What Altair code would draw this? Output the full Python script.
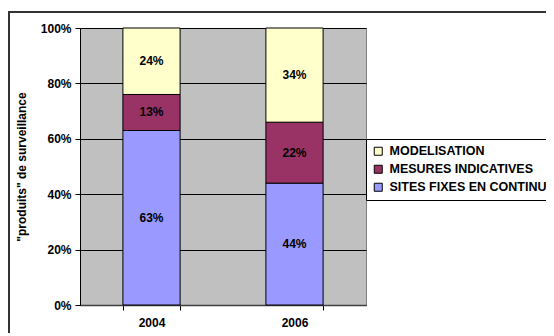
import altair as alt
import pandas as pd

years = ["2004", "2006"]
series = ["SITES FIXES EN CONTINU", "MESURES INDICATIVES", "MODELISATION"]
colors = ["#9999FF", "#993366", "#FFFFCC"]
sites = [63, 44]
mesures = [13, 22]
modelisation = [24, 34]

rows = []
for i, y in enumerate(years):
    for k, (name, vals) in enumerate(zip(series, [sites, mesures, modelisation])):
        rows.append({"year": y, "series": name, "value": vals[i], "order": k,
                     "label": f"{vals[i]}%"})
df = pd.DataFrame(rows)

FONT = "Liberation Sans"
FS = 12

xscale = alt.Scale(paddingInner=0.6, paddingOuter=0.3)

bars = alt.Chart(df).mark_bar(stroke="black", strokeWidth=1).encode(
    x=alt.X("year:N", title=None, scale=xscale,
            axis=alt.Axis(labelAngle=0, labelFontWeight="bold", labelFontSize=FS,
                          labelColor="black", tickBand="extent", tickSize=5,
                          domainColor="#404040", tickColor="black", labelPadding=7,
                          domainWidth=1.5, labelFont=FONT)),
    y=alt.Y("value:Q", stack="normalize", title='"produits" de surveillance',
            scale=alt.Scale(domain=[0, 1]),
            axis=alt.Axis(format=".0%", values=[0, 0.2, 0.4, 0.6, 0.8, 1.0],
                          labelFontWeight="bold", labelFontSize=FS, labelColor="black",
                          titleFontWeight="bold", titleFontSize=FS, titleColor="black",
                          gridColor="black", grid=True, tickColor="black", tickSize=5,
                          domainColor="black", titlePadding=12, labelPadding=4,
                          labelFont=FONT, titleFont=FONT)),
    color=alt.Color("series:N", scale=alt.Scale(domain=series[::-1], range=colors[::-1]),
                    title=None,
                    legend=alt.Legend(orient="none", legendX=286, legendY=111,
                                      symbolType="square", symbolSize=64,
                                      symbolStrokeColor="black", symbolStrokeWidth=1,
                                      labelFontWeight="bold", labelFontSize=12.5,
                                      labelFont=FONT, labelOffset=5,
                                      labelColor="black", strokeColor="black",
                                      fillColor="white", padding=6, rowPadding=5,
                                      labelLimit=300, symbolOpacity=1)),
    order=alt.Order("order:Q"),
)

text = alt.Chart(df).mark_text(fontWeight="bold", fontSize=FS, color="black", font=FONT).encode(
    x=alt.X("year:N", scale=xscale),
    y=alt.Y("value:Q", stack="normalize", bandPosition=0.5),
    text="label:N",
    order=alt.Order("order:Q"),
)

border = alt.Chart(pd.DataFrame({"a": [0]})).mark_rect(
    fill=None, stroke="#333333", strokeWidth=2, clip=False
).encode(x=alt.value(-71), x2=alt.value(520), y=alt.value(-16), y2=alt.value(330))

chart = alt.layer(bars, text, border).properties(
    width=286, height=277,
    autosize=alt.AutoSizeParams(type="none"),
    padding={"left": 72, "top": 20, "right": 180, "bottom": 28},
).configure(font=FONT).configure_view(fill="#C0C0C0", stroke="#808080")

chart.save("out.html", embed_options={"renderer": "svg", "actions": False})
